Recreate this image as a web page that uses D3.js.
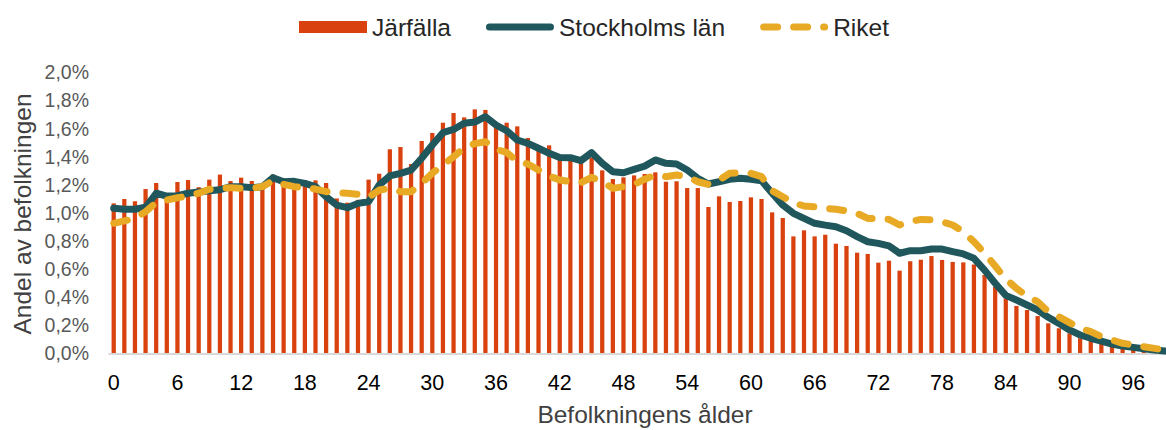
<!DOCTYPE html>
<html>
<head>
<meta charset="utf-8">
<script src="https://cdn.jsdelivr.net/npm/d3@7/dist/d3.min.js"></script>
<style>
  html, body { margin: 0; padding: 0; background: #fff; overflow: hidden; }
  svg { display: block; }
</style>
</head>
<body>
<svg id="chart" width="1166" height="430"></svg>
<script>
// ---- Data (andel av befolkningen, %) ----
const ages = d3.range(0, 100);
const xTickLabels = ["0","6","12","18","24","30","36","42","48","54","60","66","72","78","84","90","96"];
const yTickValues = [0, 0.2, 0.4, 0.6, 0.8, 1.0, 1.2, 1.4, 1.6, 1.8, 2.0];
const seriesNames = ["Järfälla", "Stockholms län", "Riket"];

const jarfalla = [
  1.065, 1.096, 1.08, 1.167, 1.21, 1.13, 1.217, 1.231, 1.18, 1.234,
  1.27, 1.224, 1.248, 1.224, 1.18, 1.27, 1.243, 1.23, 1.23, 1.229,
  1.21, 1.10, 1.07, 1.09, 1.234, 1.276, 1.45, 1.466, 1.345, 1.509,
  1.566, 1.639, 1.708, 1.677, 1.734, 1.73, 1.64, 1.639, 1.613, 1.53,
  1.44, 1.478, 1.39, 1.374, 1.35, 1.39, 1.30, 1.238, 1.25, 1.264,
  1.274, 1.286, 1.219, 1.222, 1.174, 1.174, 1.039, 1.115, 1.075, 1.082,
  1.108, 1.096, 1.001, 0.961, 0.83, 0.873, 0.83, 0.842, 0.778, 0.762,
  0.714, 0.705, 0.643, 0.657, 0.586, 0.653, 0.664, 0.69, 0.662, 0.648,
  0.645, 0.63, 0.555, 0.472, 0.389, 0.335, 0.306, 0.263, 0.211, 0.176,
  0.14, 0.105, 0.085, 0.069, 0.05, 0.04, 0.03, 0.02, 0.012, 0.006
];

const stockholm = [
  1.03, 1.023, 1.023, 1.037, 1.137, 1.117, 1.12, 1.137, 1.146, 1.155,
  1.162, 1.184, 1.184, 1.177, 1.184, 1.248, 1.219, 1.222, 1.207, 1.184,
  1.112, 1.053, 1.034, 1.065, 1.077, 1.196, 1.26, 1.279, 1.302, 1.386,
  1.48, 1.568, 1.591, 1.635, 1.644, 1.682, 1.623, 1.582, 1.516, 1.492,
  1.457, 1.421, 1.392, 1.39, 1.369, 1.426, 1.35, 1.29, 1.283, 1.307,
  1.33, 1.374, 1.35, 1.345, 1.302, 1.243, 1.203, 1.219, 1.236, 1.243,
  1.236, 1.226, 1.137, 1.053, 0.994, 0.958, 0.923, 0.91, 0.899, 0.87,
  0.828, 0.792, 0.78, 0.762, 0.71, 0.728, 0.728, 0.74, 0.74, 0.721,
  0.705, 0.674, 0.59, 0.496, 0.41, 0.377, 0.342, 0.306, 0.254, 0.211,
  0.164, 0.128, 0.105, 0.085, 0.064, 0.05, 0.04, 0.03, 0.021, 0.014
];

const riket = [
  0.923, 0.94, 0.958, 1.006, 1.07, 1.089, 1.105, 1.117, 1.137, 1.165,
  1.172, 1.177, 1.172, 1.172, 1.184, 1.226, 1.2, 1.184, 1.177, 1.167,
  1.148, 1.141, 1.137, 1.13, 1.108, 1.16, 1.172, 1.148, 1.148, 1.208,
  1.279, 1.338, 1.397, 1.46, 1.49, 1.504, 1.45, 1.428, 1.362, 1.345,
  1.302, 1.26, 1.231, 1.219, 1.212, 1.25, 1.219, 1.172, 1.184, 1.2,
  1.237, 1.267, 1.255, 1.267, 1.255, 1.219, 1.2, 1.231, 1.279, 1.283,
  1.279, 1.255, 1.155, 1.112, 1.07, 1.046, 1.041, 1.03, 1.023, 1.011,
  0.994, 0.958, 0.958, 0.951, 0.911, 0.934, 0.951, 0.947, 0.934, 0.911,
  0.863, 0.792, 0.71, 0.619, 0.526, 0.46, 0.406, 0.365, 0.294, 0.258,
  0.216, 0.176, 0.152, 0.116, 0.093, 0.069, 0.057, 0.045, 0.033, 0.021
];

// ---- Styles ----
const colors = { bar: "#D9420F", stockholm: "#1F575C", riket: "#E8A925" };
const fontFamily = "'Liberation Sans', Arial, sans-serif";

const svg = d3.select("#chart");
const plot = { left: 108.4, right: 1170.4, top: 72, bottom: 353 };

const x = d3.scaleBand().domain(ages).range([plot.left, plot.right]).paddingInner(0.6).paddingOuter(0.3);
const y = d3.scaleLinear().domain([0, 2.0]).range([plot.bottom, plot.top]);
const cx = a => x(a) + x.bandwidth() / 2;

// Bars
svg.append("g").selectAll("rect").data(ages).join("rect")
  .attr("x", a => x(a))
  .attr("width", x.bandwidth())
  .attr("y", a => y(jarfalla[a]))
  .attr("height", a => y(0) - y(jarfalla[a]))
  .attr("fill", colors.bar);

// X axis line
svg.append("line")
  .attr("x1", plot.left).attr("x2", plot.right)
  .attr("y1", y(0) + 1).attr("y2", y(0) + 1)
  .attr("stroke", "#d9d9d9").attr("stroke-width", 2);

// Lines
const line = d3.line().x((d, i) => cx(ages[i])).y(d => y(d));
svg.append("path").datum(stockholm)
  .attr("d", line).attr("fill", "none")
  .attr("stroke", colors.stockholm).attr("stroke-width", 7)
  .attr("stroke-linejoin", "round").attr("stroke-linecap", "round");
svg.append("path").datum(riket)
  .attr("d", line).attr("fill", "none")
  .attr("stroke", colors.riket).attr("stroke-width", 7)
  .attr("stroke-dasharray", "14,16")
  .attr("stroke-linejoin", "round").attr("stroke-linecap", "round");

// Y axis (labels only)
const fmtY = v => d3.format(".1f")(v).replace(".", ",") + "%";
const yAxis = d3.axisLeft(y).tickValues(yTickValues).tickFormat(fmtY).tickSize(0).tickPadding(0);
const gy = svg.append("g").attr("transform", "translate(89,0)").call(yAxis);
gy.select(".domain").remove();
gy.selectAll("text")
  .attr("font-family", fontFamily).attr("font-size", 19.5)
  .attr("fill", "#595959").attr("dy", "0.35em");

// X axis (labels only, every 6th age)
const xAxis = d3.axisBottom(x)
  .tickValues(xTickLabels.map(Number))
  .tickFormat((d) => xTickLabels[xTickLabels.indexOf(String(d))])
  .tickSize(0).tickPadding(0);
const gx = svg.append("g").attr("transform", "translate(0,382)").call(xAxis);
gx.select(".domain").remove();
gx.selectAll("text")
  .attr("font-family", fontFamily).attr("font-size", 21.5)
  .attr("fill", "#000").attr("dy", "0.35em").attr("y", 0);

// Axis titles
svg.append("text")
  .attr("x", 645).attr("y", 423)
  .attr("text-anchor", "middle")
  .attr("font-family", fontFamily).attr("font-size", 24.5)
  .attr("fill", "#404040")
  .text("Befolkningens ålder");

svg.append("text")
  .attr("transform", "translate(31,214) rotate(-90)")
  .attr("text-anchor", "middle")
  .attr("font-family", fontFamily).attr("font-size", 24.5)
  .attr("fill", "#404040")
  .text("Andel av befolkningen");

// Legend
const legend = svg.append("g");
let lx = 299;
const ly = 27;
seriesNames.forEach((name, i) => {
  const g = legend.append("g");
  if (i === 0) {
    g.append("rect").attr("x", lx).attr("y", ly - 6).attr("width", 68).attr("height", 12).attr("fill", colors.bar);
  } else if (i === 1) {
    g.append("line").attr("x1", lx + 3.5).attr("x2", lx + 68 - 3.5).attr("y1", ly).attr("y2", ly)
      .attr("stroke", colors.stockholm).attr("stroke-width", 7).attr("stroke-linecap", "round");
  } else {
    g.append("line").attr("x1", lx + 3.5).attr("x2", lx + 68 - 3.5).attr("y1", ly).attr("y2", ly)
      .attr("stroke", colors.riket).attr("stroke-width", 7).attr("stroke-linecap", "round")
      .attr("stroke-dasharray", "14,16");
  }
  const t = g.append("text")
    .attr("x", lx + 73).attr("y", ly + 8.5)
    .attr("font-family", fontFamily).attr("font-size", 24.5)
    .attr("fill", "#262626")
    .text(name);
  lx = lx + 73 + t.node().getComputedTextLength() + 35;
});
</script>
</body>
</html>
